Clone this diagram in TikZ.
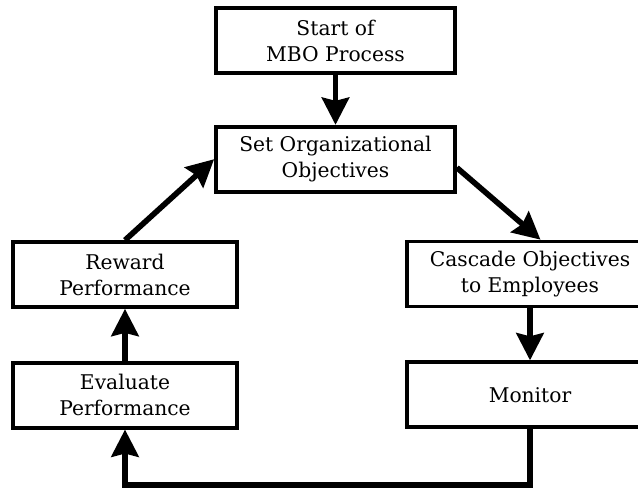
\documentclass[tikz,border=0pt]{standalone}
\usepackage{fontspec}
\setmainfont{DejaVu Serif}
\usetikzlibrary{arrows.meta, positioning}

\begin{document}
\begin{tikzpicture}[
  x=0.025cm, y=-0.025cm,
  node distance=1.35cm,
  stagebox/.style={rectangle, draw=black, line width=2.6pt, fill=white, minimum height=1.625cm, align=center, font=\fontsize{14.4}{18.5}\selectfont, inner sep=2pt},
  arrow/.style={-{Stealth[length=0.68cm, width=0.68cm, inset=0.08cm]}, line width=4pt, color=black},
]
\useasboundingbox (0,0) rectangle (638,489);
\clip (0,0) rectangle (638,489);

\node[stagebox, minimum width=5.975cm] (start) at (335.5,40.5) {Start of\\MBO Process};
\node[stagebox, minimum width=5.975cm, below=1.25cm of start] (setobj) {Set Organizational\\Objectives};

\node[stagebox, minimum width=5.6cm] (reward) at (125,274.5) {Reward\\Performance};
\node[stagebox, minimum width=5.6cm, below=1.3cm of reward] (evaluate) {Evaluate\\Performance};

\node[stagebox, minimum width=6.15cm] (cascade) at (530,274) {Cascade Objectives\\to Employees};
\node[stagebox, minimum width=6.15cm, below=1.3cm of cascade] (monitor) {Monitor};

\draw[arrow] (start) -- (setobj);
\draw[arrow] (setobj.-4) -- (cascade.73);
\draw[arrow] (cascade) -- (monitor);
\draw[arrow] (monitor.south) -- ++(0,56) -| (evaluate.south);
\draw[arrow] (evaluate) -- (reward);
\draw[arrow] (reward.north) -- (setobj.west);

\end{tikzpicture}
\end{document}
